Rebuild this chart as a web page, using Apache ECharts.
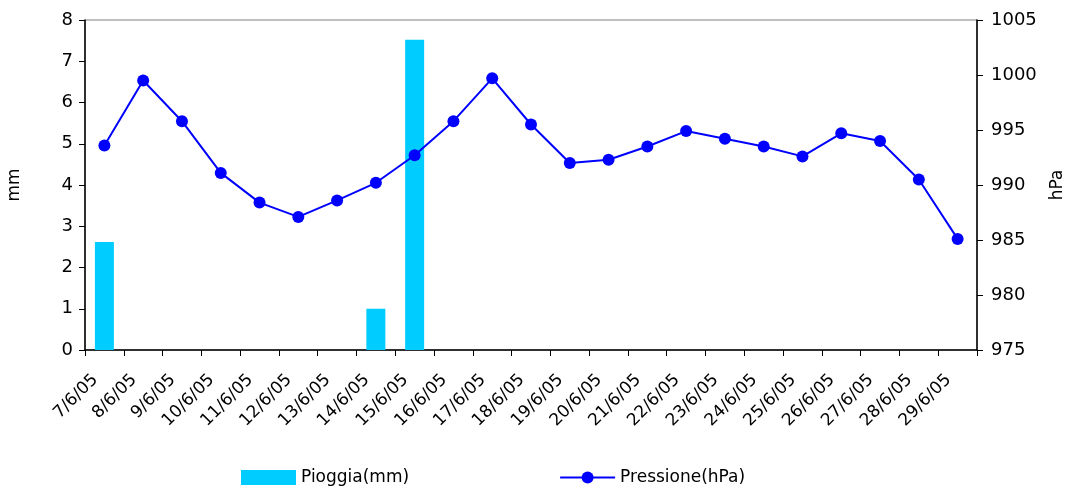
<!DOCTYPE html>
<html><head><meta charset="utf-8">
<script src="https://cdn.jsdelivr.net/npm/echarts@6/dist/echarts.min.js"></script>
<style>html,body{margin:0;padding:0;background:#fff}#c{width:1073px;height:494px}</style>
</head><body><div id="c"></div>
<script>
const categories = ['7/6/05','8/6/05','9/6/05','10/6/05','11/6/05','12/6/05','13/6/05','14/6/05','15/6/05','16/6/05','17/6/05','18/6/05','19/6/05','20/6/05','21/6/05','22/6/05','23/6/05','24/6/05','25/6/05','26/6/05','27/6/05','28/6/05','29/6/05'];
const pioggia = [2.62,0,0,0,0,0,0,1.0,7.52,0,0,0,0,0,0,0,0,0,0,0,0,0,0];
const pressione = [993.6,999.5,995.8,991.1,988.4,987.1,988.6,990.2,992.7,995.8,999.7,995.5,992.0,992.3,993.5,994.9,994.2,993.5,992.6,994.7,994.0,990.5,985.1];
const font = 'DejaVu Sans';
const chart = echarts.init(document.getElementById('c'));
chart.setOption({
  animation:false,
  textStyle:{fontFamily:font},
  grid:{left:85,right:96,top:20,bottom:144,show:true,borderColor:'#808080',borderWidth:1,outerBoundsMode:'none',containLabel:false},
  legend:{bottom:3,left:236,itemGap:150,itemWidth:55,itemHeight:15,
    textStyle:{fontFamily:font,fontSize:17,color:'#000'},
    data:[{name:'Pioggia(mm)',icon:'rect'},{name:'Pressione(hPa)'}]},
  xAxis:{type:'category',data:categories,boundaryGap:true,
    axisLine:{lineStyle:{color:'#000',width:1.5}},
    axisTick:{show:true,length:6,lineStyle:{color:'#000'}},
    axisLabel:{rotate:45,interval:0,fontSize:17,color:'#000',fontFamily:font,margin:18,padding:[0,13,0,0]}},
  yAxis:[
    {type:'value',min:0,max:8,interval:1,name:'mm',nameLocation:'middle',nameGap:62,nameRotate:90,
     nameTextStyle:{fontSize:17,color:'#000',fontFamily:font},
     axisLine:{show:true,lineStyle:{color:'#000',width:1.5}},axisTick:{show:true,length:6,lineStyle:{color:'#000'}},
     splitLine:{show:false},axisLabel:{fontSize:18,color:'#000',margin:12,fontFamily:font}},
    {type:'value',min:975,max:1005,interval:5,name:'hPa',nameLocation:'middle',nameGap:72,nameRotate:90,
     nameTextStyle:{fontSize:17,color:'#000',fontFamily:font},
     axisLine:{show:true,lineStyle:{color:'#000',width:1.5}},axisTick:{show:true,length:6,lineStyle:{color:'#000'}},
     splitLine:{show:false},axisLabel:{fontSize:18,color:'#000',margin:14,fontFamily:font,formatter:v=>String(v)}}
  ],
  series:[
    {name:'Pioggia(mm)',type:'bar',data:pioggia,yAxisIndex:0,barWidth:19,itemStyle:{color:'#00CCFF'}},
    {name:'Pressione(hPa)',type:'line',data:pressione,yAxisIndex:1,symbol:'circle',symbolSize:12,
     lineStyle:{color:'#0000FF',width:2},itemStyle:{color:'#0000FF'}}
  ]
});
</script></body></html>
